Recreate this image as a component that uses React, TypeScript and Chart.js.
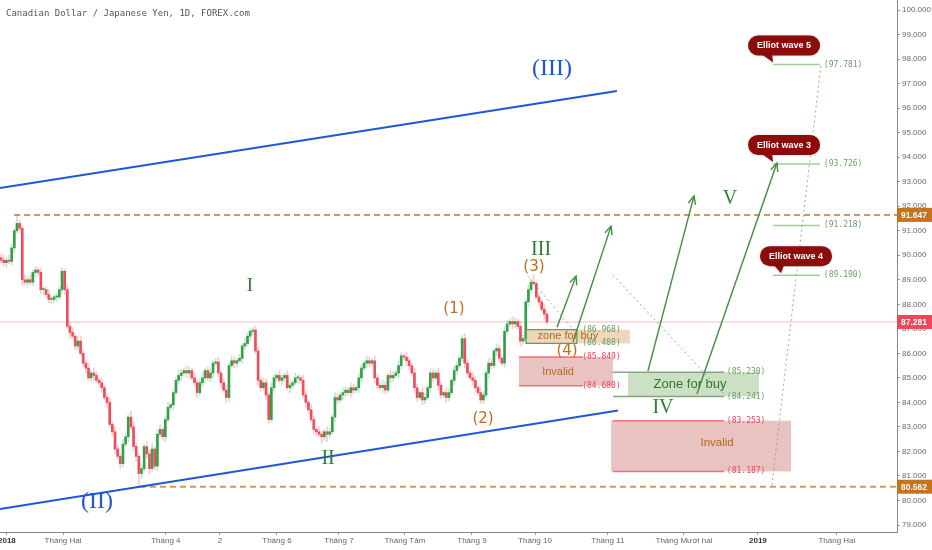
import React, { useEffect, useRef } from "react";
import { Chart, registerables } from "chart.js";
Chart.register(...registerables);

// ---------- data (daily candles, CAD/JPY 2018) ----------
const firstOpen = 89.9;
const closes = [
  89.8, 89.7, 89.8, 89.75, 90.3, 91.0, 91.3, 91.1, 89.0, 88.9,
  89.0, 88.9, 89.3, 89.4, 89.3, 88.6, 88.6, 88.4, 88.2, 88.2,
  88.3, 88.3, 88.6, 89.35, 88.6, 87.1, 86.85, 86.7, 86.3, 86.5,
  86.0, 85.6, 85.4, 85.0, 85.2, 85.1, 84.9, 84.8, 84.6, 84.2,
  84.0, 83.1, 82.8, 82.1, 81.8, 81.5, 82.3, 82.6, 83.4, 83.0,
  82.2, 81.8, 81.1, 81.3, 82.2, 81.9, 81.3, 82.1, 81.4, 82.7,
  82.9, 82.6, 83.3, 83.8, 83.9, 84.4, 84.9, 85.1, 85.2, 85.3,
  85.2, 85.3, 85.0, 84.8, 84.4, 84.8, 85.0, 85.3, 85.0, 85.2,
  85.6, 85.65, 85.2, 84.8, 84.5, 84.2, 85.5, 85.7, 85.6, 85.7,
  85.8, 86.3, 86.4, 86.7, 86.9, 86.95, 86.1, 84.9, 84.6, 84.8,
  84.3, 83.3, 84.6, 85.0, 85.1, 84.9, 85.0, 85.1, 84.6, 84.7,
  84.8, 85.0, 85.0, 84.9, 84.3, 84.0, 83.7, 83.3, 82.9, 82.8,
  82.7, 82.6, 82.8, 82.7, 82.8, 83.4, 84.2, 84.1, 84.3, 84.4,
  84.5, 84.4, 84.6, 84.5, 84.6, 85.0, 85.4, 85.6, 85.7, 85.6,
  85.7, 85.0, 84.7, 84.6, 84.7, 84.5, 85.1, 85.0, 85.1, 85.2,
  85.5, 85.9, 85.85, 85.7, 85.5, 85.2, 84.6, 84.2, 84.4, 84.1,
  84.2, 84.6, 85.2, 85.0, 85.2, 84.7, 84.3, 84.4, 84.2, 84.4,
  84.9, 85.3, 85.5, 85.8, 86.6, 85.6, 85.2, 85.0, 84.9, 84.6,
  84.4, 84.1, 84.3, 85.2, 85.6, 85.5, 86.1, 86.2, 85.8, 85.6,
  86.9, 87.2, 87.3, 87.2, 87.3, 87.1, 86.5, 86.6, 88.1, 88.6,
  88.9, 88.85, 88.3, 88.1, 87.8, 87.6, 87.281,
];
const wickUp = [
  0.15, 0.2, 0.1, 0.2, 0.15, 0.1, 0.34, 0.15, 0.1, 0.2,
  0.15, 0.2, 0.1, 0.15, 0.1, 0.2, 0.15, 0.1, 0.2, 0.15,
  0.1, 0.15, 0.1, 0.15, 0.1, 0.2, 0.15, 0.2, 0.1, 0.2,
  0.2, 0.1, 0.15, 0.2, 0.1, 0.2, 0.15, 0.1, 0.2, 0.1,
  0.15, 0.2, 0.1, 0.2, 0.15, 0.1, 0.2, 0.15, 0.1, 0.25,
  0.2, 0.15, 0.1, 0.15, 0.1, 0.2, 0.15, 0.2, 0.1, 0.15,
  0.2, 0.1, 0.15, 0.2, 0.1, 0.15, 0.1, 0.2, 0.15, 0.1,
  0.2, 0.15, 0.1, 0.2, 0.1, 0.15, 0.2, 0.1, 0.15, 0.2,
  0.1, 0.15, 0.2, 0.1, 0.15, 0.2, 0.1, 0.2, 0.15, 0.1,
  0.15, 0.1, 0.2, 0.15, 0.1, 0.12, 0.2, 0.15, 0.1, 0.2,
  0.15, 0.1, 0.2, 0.15, 0.1, 0.2, 0.15, 0.1, 0.2, 0.15,
  0.1, 0.2, 0.15, 0.1, 0.2, 0.15, 0.1, 0.2, 0.15, 0.1,
  0.2, 0.15, 0.1, 0.2, 0.15, 0.1, 0.2, 0.15, 0.1, 0.2,
  0.15, 0.1, 0.2, 0.15, 0.1, 0.2, 0.15, 0.1, 0.2, 0.15,
  0.1, 0.2, 0.15, 0.1, 0.2, 0.15, 0.1, 0.2, 0.15, 0.1,
  0.2, 0.15, 0.1, 0.2, 0.15, 0.1, 0.2, 0.15, 0.1, 0.2,
  0.15, 0.1, 0.2, 0.15, 0.1, 0.2, 0.15, 0.1, 0.2, 0.15,
  0.1, 0.2, 0.15, 0.1, 0.15, 0.2, 0.15, 0.1, 0.2, 0.15,
  0.1, 0.2, 0.15, 0.1, 0.2, 0.15, 0.1, 0.2, 0.15, 0.1,
  0.2, 0.15, 0.1, 0.2, 0.15, 0.1, 0.2, 0.15, 0.1, 0.2,
  0.15, 0.3, 0.1, 0.15, 0.1, 0.2, 0.1,
];
const wickDn = [
  0.1, 0.15, 0.2, 0.1, 0.15, 0.2, 0.1, 0.15, 0.2, 0.1,
  0.2, 0.1, 0.15, 0.2, 0.1, 0.15, 0.2, 0.1, 0.15, 0.2,
  0.15, 0.2, 0.1, 0.15, 0.2, 0.1, 0.25, 0.1, 0.15, 0.2,
  0.1, 0.15, 0.2, 0.1, 0.15, 0.2, 0.1, 0.15, 0.2, 0.1,
  0.2, 0.1, 0.15, 0.2, 0.1, 0.2, 0.15, 0.1, 0.2, 0.1,
  0.15, 0.2, 0.5, 0.2, 0.1, 0.15, 0.2, 0.1, 0.15, 0.2,
  0.1, 0.15, 0.2, 0.1, 0.15, 0.2, 0.1, 0.15, 0.2, 0.1,
  0.15, 0.2, 0.1, 0.15, 0.2, 0.1, 0.15, 0.2, 0.1, 0.15,
  0.2, 0.1, 0.15, 0.2, 0.1, 0.2, 0.15, 0.1, 0.2, 0.15,
  0.1, 0.2, 0.15, 0.1, 0.2, 0.15, 0.1, 0.2, 0.15, 0.1,
  0.2, 0.15, 0.1, 0.2, 0.15, 0.1, 0.2, 0.15, 0.1, 0.2,
  0.15, 0.1, 0.2, 0.15, 0.1, 0.2, 0.15, 0.1, 0.2, 0.15,
  0.1, 0.25, 0.15, 0.3, 0.15, 0.1, 0.2, 0.15, 0.1, 0.2,
  0.15, 0.1, 0.2, 0.15, 0.1, 0.2, 0.15, 0.1, 0.2, 0.15,
  0.1, 0.2, 0.15, 0.1, 0.2, 0.15, 0.1, 0.2, 0.15, 0.1,
  0.2, 0.15, 0.1, 0.2, 0.15, 0.1, 0.2, 0.15, 0.1, 0.2,
  0.15, 0.1, 0.2, 0.15, 0.1, 0.2, 0.15, 0.1, 0.2, 0.15,
  0.1, 0.2, 0.15, 0.1, 0.15, 0.2, 0.15, 0.1, 0.2, 0.15,
  0.1, 0.15, 0.15, 0.1, 0.2, 0.15, 0.1, 0.2, 0.15, 0.1,
  0.2, 0.15, 0.1, 0.2, 0.15, 0.1, 0.2, 0.15, 0.1, 0.2,
  0.15, 0.1, 0.1, 0.15, 0.1, 0.2, 0.1,
];

// axis ticks
const xTickPos = [2.2, 23.4, 62.2, 82.6, 104.1, 127.5, 152.4, 177.7, 201.5, 229.0, 257.7, 285.6, 315.4];
const xTickLabels = ["2018", "Tháng Hai", "Tháng 4", "2", "Tháng 6", "Tháng 7", "Tháng Tám", "Tháng 9", "Tháng 10", "Tháng 11", "Tháng Mười hai", "2019", "Tháng Hai"];
const yTicks = [79, 80, 81, 82, 83, 84, 85, 86, 87, 88, 89, 90, 91, 92, 93, 94, 95, 96, 97, 98, 99, 100];
const xRange = [-0.4, 338.1];
const yRange = [78.715, 100.411];

// key price levels
const swingHigh = 91.647;
const swingLow = 80.562;
const lastPrice = 87.281;
const buyZone4 = [86.968, 86.408];
const invalid4 = [85.849, 84.68];
const buyZoneIV = [85.23, 84.241];
const invalidIV = [83.253, 81.187];
const elliotTargets = [97.781, 93.726, 91.218, 89.19];
const elliotNames = ["Elliot wave 5", "Elliot wave 3", "", "Elliot wave 4"];
const elliotTipX = [291.7, 291.7, 0, 294.7];

// drawn lines (index, price)
const blueUpper = [[-0.4, 92.74], [232.4, 96.7]];
const blueLower = [[-0.4, 79.65], [232.8, 83.67]];
const arrowsUp = [
  [[209.8, 87.07], [217.0, 89.15]],
  [[215.8, 86.46], [230.2, 91.19]],
  [[244.1, 85.28], [261.5, 92.42]],
  [[262.6, 84.34], [292.8, 93.76]],
];
const dottedPaths = [
  [[198.8, 89.15], [218.5, 86.63]],
  [[230.9, 89.2], [273.2, 84.3]],
  [[290.9, 80.63], [309.4, 97.76]],
];

// wave labels
const waveLabels = ["(III)", "(II)", "I", "II", "III", "IV", "V", "(1)", "(2)", "(3)", "(4)"];
const waveLabelX = [207.9, 36.2, 93.9, 123.4, 203.8, 249.8, 275.1, 170.9, 181.9, 201.1, 213.6];
const waveLabelY = [97.6, 79.94, 88.75, 81.69, 90.22, 83.77, 92.3, 87.81, 83.32, 89.52, 86.1];

// ---------- derived ----------
const opens = closes.map((c, i) => (i === 0 ? firstOpen : closes[i - 1]));
const bodies = closes.map((c, i) => ({ x: i, y: [opens[i], c] }));
const wicks = closes.map((c, i) => ({
  x: i,
  y: [Math.min(opens[i], c) - wickDn[i], Math.max(opens[i], c) + wickUp[i]],
}));
const isUp = (i: number) => closes[i] >= opens[i];

// layout (x extents in bar-index units)
const LAY = {
  highFrom: 4.9,
  lowFrom: 52.4,
  buy4Box: [198.1, 237.3],
  buy4Edge: [198.1, 217.3],
  inv4Box: [195.4, 230.9],
  inv4Edge: [195.4, 219.6],
  zone4Label: 219.3,
  buyIVBox: [236.6, 286.0],
  invIVBox: [230.2, 298.1],
  ivEdge: [230.9, 272.8],
  ivLabel: 273.9,
  elliotLine: [291.3, 309.0],
  elliotLabel: 310.5,
  buy4Text: [213.9, 86.71],
  inv4Text: [210.2, 85.24],
  buyIVText: [260.0, 84.75],
  invIVText: [270.2, 82.34],
};

const GREEN_TXT = "#6b9f66";
const RED_TXT = "#f0455a";

function arrowHead(ctx: CanvasRenderingContext2D, x1: number, y1: number, x2: number, y2: number) {
  const a = Math.atan2(y2 - y1, x2 - x1);
  const L = 9, s = 0.42;
  ctx.beginPath();
  ctx.moveTo(x2 - L * Math.cos(a - s), y2 - L * Math.sin(a - s));
  ctx.lineTo(x2, y2);
  ctx.lineTo(x2 - L * Math.cos(a + s), y2 - L * Math.sin(a + s));
  ctx.stroke();
}

function roundRect(ctx: CanvasRenderingContext2D, x: number, y: number, w: number, h: number, r: number) {
  ctx.beginPath();
  ctx.moveTo(x + r, y);
  ctx.lineTo(x + w - r, y);
  ctx.arcTo(x + w, y, x + w, y + r, r);
  ctx.lineTo(x + w, y + h - r);
  ctx.arcTo(x + w, y + h, x + w - r, y + h, r);
  ctx.lineTo(x + r, y + h);
  ctx.arcTo(x, y + h, x, y + h - r, r);
  ctx.lineTo(x, y + r);
  ctx.arcTo(x, y, x + r, y, r);
  ctx.closePath();
}

const overlay = {
  id: "overlay",
  beforeDatasetsDraw(chart: any) {
    const { ctx, chartArea: a, scales } = chart;
    const Y = (v: number) => scales.y.getPixelForValue(v);
    ctx.save();
    ctx.strokeStyle = "rgba(242,90,110,0.28)";
    ctx.lineWidth = 1.5;
    ctx.beginPath();
    ctx.moveTo(a.left, Y(lastPrice));
    ctx.lineTo(a.right, Y(lastPrice));
    ctx.stroke();
    ctx.restore();
  },
  afterDatasetsDraw(chart: any) {
    const { ctx, chartArea: a, scales } = chart;
    const X = (v: number) => scales.x.getPixelForValue(v);
    const Y = (v: number) => scales.y.getPixelForValue(v);
    ctx.save();
    ctx.beginPath();
    ctx.rect(a.left, a.top, a.right - a.left, a.bottom - a.top);
    ctx.clip();

    const hline = (x0: number, x1: number, p: number) => {
      ctx.beginPath();
      ctx.moveTo(x0, Y(p));
      ctx.lineTo(x1, Y(p));
      ctx.stroke();
    };
    const box = (xs: number[], lv: number[], fill: string) => {
      ctx.fillStyle = fill;
      const x0 = X(xs[0]), x1 = X(xs[1]), y0 = Y(lv[0]), y1 = Y(lv[1]);
      ctx.fillRect(x0, y0, x1 - x0, y1 - y0);
    };
    const txt = (s: string, x: number, y: number, font: string, color: string, align: CanvasTextAlign = "center") => {
      ctx.font = font;
      ctx.fillStyle = color;
      ctx.textAlign = align;
      ctx.textBaseline = "middle";
      ctx.fillText(s, x, y);
    };

    // orange dashed swing levels
    ctx.strokeStyle = "rgba(210,140,70,0.9)";
    ctx.lineWidth = 2;
    ctx.setLineDash([6, 4]);
    hline(X(LAY.highFrom), a.right, swingHigh);
    hline(X(LAY.lowFrom), a.right, swingLow);
    ctx.setLineDash([]);

    // blue channel
    ctx.strokeStyle = "#1f57d6";
    ctx.lineWidth = 2;
    [blueUpper, blueLower].forEach((l) => {
      ctx.beginPath();
      ctx.moveTo(X(l[0][0]), Y(l[0][1]));
      ctx.lineTo(X(l[1][0]), Y(l[1][1]));
      ctx.stroke();
    });

    // zones
    box(LAY.inv4Box, invalid4, "rgba(206,120,120,0.45)");
    box(LAY.invIVBox, invalidIV, "rgba(206,120,120,0.45)");
    box(LAY.buyIVBox, buyZoneIV, "rgba(130,180,115,0.42)");
    box(LAY.buy4Box, buyZone4, "rgba(222,176,120,0.5)");

    ctx.lineWidth = 1.5;
    ctx.strokeStyle = "rgba(242,90,105,0.85)";
    hline(X(LAY.inv4Edge[0]), X(LAY.inv4Edge[1]), invalid4[0]);
    hline(X(LAY.inv4Edge[0]), X(LAY.inv4Edge[1]), invalid4[1]);
    hline(X(LAY.ivEdge[0]), X(LAY.ivEdge[1]), invalidIV[0]);
    hline(X(LAY.ivEdge[0]), X(LAY.ivEdge[1]), invalidIV[1]);
    ctx.strokeStyle = "rgba(120,160,115,0.9)";
    hline(X(LAY.ivEdge[0]), X(LAY.ivEdge[1]), buyZoneIV[0]);
    hline(X(LAY.ivEdge[0]), X(LAY.ivEdge[1]), buyZoneIV[1]);
    ctx.strokeStyle = "#5d9a58";
    ctx.lineWidth = 1.2;
    {
      const x0 = X(LAY.buy4Edge[0]), x1 = X(LAY.buy4Edge[1]);
      const y0 = Y(buyZone4[0]), y1 = Y(buyZone4[1]);
      ctx.strokeRect(x0, y0, x1 - x0, y1 - y0);
    }

    // elliot target lines
    ctx.strokeStyle = "rgba(140,190,130,0.8)";
    ctx.lineWidth = 1.5;
    elliotTargets.forEach((p) => hline(X(LAY.elliotLine[0]), X(LAY.elliotLine[1]), p));

    // dotted paths
    ctx.strokeStyle = "rgba(110,170,100,0.8)";
    ctx.lineWidth = 1;
    ctx.setLineDash([2, 3]);
    dottedPaths.forEach((p) => {
      ctx.beginPath();
      ctx.moveTo(X(p[0][0]), Y(p[0][1]));
      ctx.lineTo(X(p[1][0]), Y(p[1][1]));
      ctx.stroke();
    });
    ctx.setLineDash([]);

    // arrows
    ctx.strokeStyle = "#3f8f3b";
    ctx.lineWidth = 1.4;
    arrowsUp.forEach((p) => {
      const x1 = X(p[0][0]), y1 = Y(p[0][1]), x2 = X(p[1][0]), y2 = Y(p[1][1]);
      ctx.beginPath();
      ctx.moveTo(x1, y1);
      ctx.lineTo(x2, y2);
      ctx.stroke();
      arrowHead(ctx, x1, y1, x2, y2);
    });

    // zone texts
    const mono = "8px 'DejaVu Sans Mono'";
    txt("zone for buy", X(LAY.buy4Text[0]), Y(LAY.buy4Text[1]), "11px 'Liberation Sans'", "#b8661e");
    txt("Invalid", X(LAY.inv4Text[0]), Y(LAY.inv4Text[1]), "11px 'Liberation Sans'", "#b8661e");
    txt("Zone for buy", X(LAY.buyIVText[0]), Y(LAY.buyIVText[1]), "13px 'Liberation Sans'", "#2f7a2c");
    txt("Invalid", X(LAY.invIVText[0]), Y(LAY.invIVText[1]), "11.5px 'Liberation Sans'", "#b8661e");

    const lvl = (v: number) => "(" + v.toFixed(3) + ")";
    txt(lvl(buyZone4[0]), X(LAY.zone4Label), Y(buyZone4[0]), mono, GREEN_TXT, "left");
    txt(lvl(buyZone4[1]), X(LAY.zone4Label), Y(buyZone4[1]), mono, GREEN_TXT, "left");
    txt(lvl(invalid4[0]), X(LAY.zone4Label), Y(invalid4[0]), mono, RED_TXT, "left");
    txt(lvl(invalid4[1]), X(LAY.zone4Label), Y(invalid4[1]), mono, RED_TXT, "left");
    txt(lvl(buyZoneIV[0]), X(LAY.ivLabel), Y(buyZoneIV[0]), mono, GREEN_TXT, "left");
    txt(lvl(buyZoneIV[1]), X(LAY.ivLabel), Y(buyZoneIV[1]), mono, GREEN_TXT, "left");
    txt(lvl(invalidIV[0]), X(LAY.ivLabel), Y(invalidIV[0]), mono, RED_TXT, "left");
    txt(lvl(invalidIV[1]), X(LAY.ivLabel), Y(invalidIV[1]), mono, RED_TXT, "left");
    elliotTargets.forEach((p) => txt(lvl(p), X(LAY.elliotLabel), Y(p), mono, GREEN_TXT, "left"));

    // wave labels
    waveLabels.forEach((s, i) => {
      let font = "15px 'DejaVu Sans'";
      let color = "#c26b1c";
      if (i < 2) { font = "24px 'Liberation Serif'"; color = "#1f57d6"; }
      else if (i < 7) { font = (i === 2 ? "19px" : "20px") + " 'Liberation Serif'"; color = "#2e7d2e"; }
      txt(s, X(waveLabelX[i]), Y(waveLabelY[i]), font, color);
    });

    // elliot bubbles
    elliotNames.forEach((name, i) => {
      if (!name) return;
      const tx = X(elliotTipX[i]), ty = Y(elliotTargets[i]);
      const cx = tx + (i === 3 ? 14 : 10), cy = ty - 19;
      ctx.font = "bold 9px 'Liberation Sans'";
      const w = ctx.measureText(name).width + 18, h = 20;
      const bx = cx - w / 2, by = cy - h / 2;
      ctx.fillStyle = "#8c0b0b";
      ctx.shadowColor = "rgba(0,0,0,0.25)";
      ctx.shadowBlur = 2;
      roundRect(ctx, bx, by, w, h, 10);
      ctx.fill();
      ctx.beginPath();
      ctx.moveTo(bx + 14, by + h - 1);
      ctx.lineTo(tx - 1, ty - 2);
      ctx.lineTo(bx + 24, by + h - 1);
      ctx.closePath();
      ctx.fill();
      ctx.shadowBlur = 0;
      ctx.shadowColor = "transparent";
      txt(name, cx, cy + 0.5, "bold 9px 'Liberation Sans'", "#ffffff");
    });

    ctx.restore();
  },
  afterDraw(chart: any) {
    const { ctx, chartArea: a, scales } = chart;
    const Y = (v: number) => scales.y.getPixelForValue(v);
    ctx.save();
    // title
    ctx.font = "9px 'DejaVu Sans Mono'";
    ctx.fillStyle = "#555";
    ctx.textAlign = "left";
    ctx.textBaseline = "middle";
    ctx.fillText("Canadian Dollar / Japanese Yen, 1D, FOREX.com", 6, 14);
    // axis price tags
    const tags: [number, string][] = [[swingHigh, "#c6731f"], [lastPrice, "#f0465b"], [swingLow, "#c6731f"]];
    tags.forEach(([p, col]) => {
      const y = Y(p);
      ctx.fillStyle = col;
      ctx.fillRect(a.right, y - 7, 36, 14);
      ctx.fillStyle = "#fff";
      ctx.font = "bold 8.5px 'Liberation Sans'";
      ctx.fillText(p.toFixed(3), a.right + 4, y + 0.5);
    });
    ctx.restore();
  },
};

export default function App() {
  const ref = useRef<HTMLCanvasElement>(null);
  useEffect(() => {
    document.body.style.margin = "0";
    const chart = new Chart(ref.current as HTMLCanvasElement, {
      type: "bar",
      data: {
        datasets: [
          {
            data: bodies as any,
            backgroundColor: (c: any) => (isUp(c.dataIndex) ? "#33a047" : "#ef4d5d"),
            barThickness: 2,
            minBarLength: 1,
            grouped: false,
            borderWidth: 0,
          } as any,
          {
            data: wicks as any,
            backgroundColor: (c: any) => (isUp(c.dataIndex) ? "rgba(90,180,130,0.35)" : "rgba(240,100,115,0.35)"),
            barThickness: 1,
            grouped: false,
            borderWidth: 0,
          } as any,
        ],
      },
      options: {
        animation: false,
        responsive: false,
        events: [],
        layout: { padding: 0 },
        plugins: { legend: { display: false }, tooltip: { enabled: false }, title: { display: false } },
        scales: {
          x: {
            type: "linear",
            min: xRange[0],
            max: xRange[1],
            offset: false,
            afterBuildTicks: (s: any) => { s.ticks = xTickPos.map((v) => ({ value: v })); },
            afterFit: (s: any) => { s.height = 18; s.paddingLeft = 0; s.paddingRight = 0; },
            ticks: {
              autoSkip: false,
              maxRotation: 0,
              padding: 1,
              callback: (_v: any, i: number) => xTickLabels[i],
              color: (c: any) => (c.index === 0 || c.index === 11 ? "#333" : "#666"),
              font: (c: any) => ({ family: "'Liberation Sans'", size: 8, weight: c.index === 0 || c.index === 11 ? "bold" : "normal" }),
            },
            grid: { offset: false, drawOnChartArea: false, drawTicks: true, tickLength: 3, color: "#999" },
            border: { display: true, color: "#888" },
          },
          y: {
            type: "linear",
            position: "right",
            min: yRange[0],
            max: yRange[1],
            afterBuildTicks: (s: any) => { s.ticks = yTicks.map((v) => ({ value: v })); },
            afterFit: (s: any) => { s.width = 35; s.paddingTop = 0; s.paddingBottom = 0; },
            ticks: {
              padding: 2,
              color: "#666",
              font: { family: "'Liberation Sans'", size: 8 },
              callback: (v: any) => Number(v).toFixed(3),
            },
            grid: { drawOnChartArea: false, drawTicks: true, tickLength: 3, color: "#999" },
            border: { display: true, color: "#888" },
          },
        },
      } as any,
      plugins: [overlay],
    });
    return () => chart.destroy();
  }, []);
  return (
    <div style={{ width: 932, height: 550 }}>
      <canvas ref={ref} width={932} height={550} style={{ display: "block" }} />
    </div>
  );
}
